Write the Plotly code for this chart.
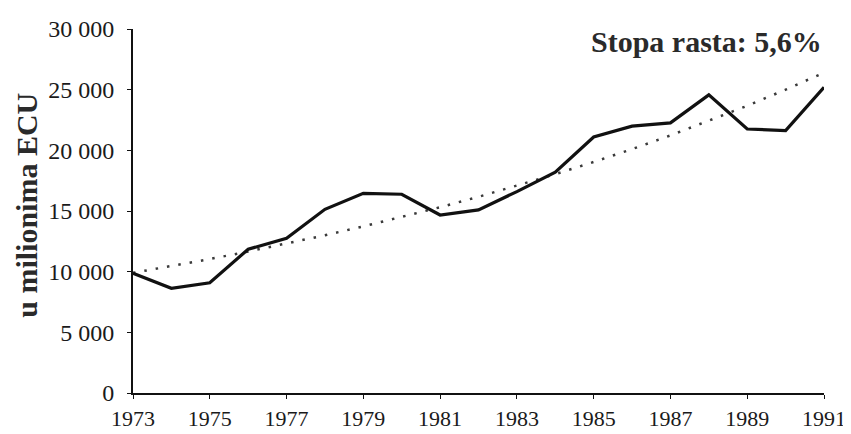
import plotly.graph_objects as go

years = list(range(1973, 1992))
values = [9870, 8630, 9090, 11850, 12750, 15140, 16460, 16380, 14670, 15090,
          16600, 18200, 21100, 21990, 22260, 24570, 21760, 21620, 25200]
trend = [9900, 10450, 11040, 11660, 12310, 13000, 13730, 14500, 15310, 16170,
         17070, 18030, 19040, 20100, 21230, 22420, 23670, 25000, 26400]

y_ticks = [0, 5000, 10000, 15000, 20000, 25000, 30000]
y_tick_text = ["0", "5 000", "10 000", "15 000", "20 000", "25 000", "30 000"]
x_ticks = list(range(1973, 1992, 2))
x_tick_text = [str(y) for y in x_ticks]

FONT = "Liberation Serif"

fig = go.Figure()
fig.add_trace(go.Scatter(x=years, y=trend, mode="lines",
                         line=dict(color="#3a3a3a", width=2.5, dash="2.5px,9px"),
                         hoverinfo="skip"))
fig.add_trace(go.Scatter(x=years, y=values, mode="lines",
                         line=dict(color="#111111", width=3.2)))

# the page body has an 8px margin, so the figure is 8px smaller and margins shifted
fig.update_layout(
    width=843, height=426,
    margin=dict(l=125, r=27, t=21, b=41),
    paper_bgcolor="white", plot_bgcolor="white",
    showlegend=False,
    font=dict(family=FONT, color="#1a1a1a"),
    xaxis=dict(range=[1973, 1991], tickvals=x_ticks, ticktext=x_tick_text,
               showgrid=False, zeroline=False, showline=True, linecolor="#111",
               linewidth=2, ticks="outside", ticklen=4, tickcolor="#111",
               tickfont=dict(family=FONT, size=22, color="#1a1a1a"),
               ticklabelstandoff=1, automargin=False),
    yaxis=dict(range=[0, 30000], tickvals=y_ticks, ticktext=y_tick_text,
               showgrid=False, zeroline=False, showline=True, linecolor="#111",
               linewidth=2, ticks="outside", ticklen=4, tickcolor="#111",
               tickfont=dict(family=FONT, size=24, color="#1a1a1a"),
               ticklabelstandoff=8, automargin=False),
    annotations=[
        dict(text="<b>Stopa rasta: 5,6%</b>", xref="paper", yref="paper",
             x=1.0, y=0.966, xanchor="right", yanchor="middle", showarrow=False,
             font=dict(family=FONT, size=30, color="#2a2a2a")),
        dict(text="<b>u milionima ECU</b>", xref="paper", yref="paper",
             x=-0.154, y=0.516, xanchor="center", yanchor="middle",
             textangle=-90, showarrow=False,
             font=dict(family=FONT, size=30, color="#2a2a2a")),
    ],
)

fig.write_html("out.html")
